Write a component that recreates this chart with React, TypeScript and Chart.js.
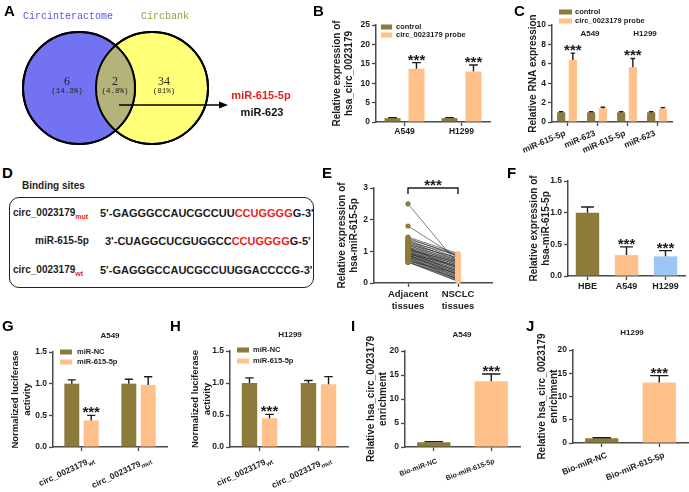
import React, { useEffect, useRef } from 'react';
import { Chart, registerables } from 'chart.js';
Chart.register(...registerables);

const SANS = '"Liberation Sans", Arial, Helvetica, sans-serif';
const MONO = '"Liberation Mono", "DejaVu Sans Mono", monospace';
const SERIF = '"Liberation Serif", "DejaVu Serif", serif';
const OLIVE = '#8c7b3a';
const ORANGE = '#ffc189';
const BLUE = '#9dc6f5';
const AXIS = '#4a4a4a';
const INK = '#1c1c1c';
const RED = '#ee1c1c';

// ---------------- data ----------------
// A: Venn
const vennSets = ['Circinteractome', 'Circbank'];
const vennCounts = ['6', '2', '34'];
const vennPercents = ['(14.3%)', '(4.8%)', '(81%)'];
const vennTargets = ['miR-615-5p', 'miR-623'];

// B
const bCategories = ['A549', 'H1299'];
const bSeries = ['control', 'circ_0023179 probe'];
const bControl = [1.0, 1.0];
const bControlErr = [0.12, 0.12];
const bProbe = [13.7, 13.0];
const bProbeErr = [1.6, 1.7];
const bProbeStars = [true, true];
const bTicks = ['0', '5', '10', '15', '20', '25'];

// C
const cCategories = ['miR-615-5p', 'miR-623', 'miR-615-5p', 'miR-623'];
const cGroups = ['A549', 'H1299'];
const cControl = [1.0, 1.0, 1.0, 1.0];
const cControlErr = [0.06, 0.05, 0.05, 0.05];
const cProbe = [6.4, 1.42, 5.65, 1.38];
const cProbeErr = [0.7, 0.1, 0.9, 0.1];
const cProbeStars = [true, false, true, false];
const cTicks = ['0', '2', '4', '6', '8', '10'];

// D: binding sites
const bindingTitle = 'Binding sites';
const bindingNames = ['circ_0023179', 'miR-615-5p', 'circ_0023179'];
const bindingSubs = ['mut', '', 'wt'];
const bindingSeqHead = ["5'-GAGGGCCAUCGCCUU", "3'-CUAGGCUCGUGGCC", "5'-GAGGGCCAUCGCCUUGGACCCCG-3'"];
const bindingSeqSite = ['CCUGGGG', 'CCUGGGG', ''];
const bindingSeqTail = ["G-3'", "G-5'", ''];

// E: paired tissues
const eCategories = [['Adjacent', 'tissues'], ['NSCLC', 'tissues']];
const eAdjacent = [2.5, 1.8, 1.45, 1.42, 1.38, 1.35, 1.32, 1.3, 1.27, 1.25, 1.22, 1.2, 1.18, 1.15, 1.13, 1.1, 1.08, 1.06, 1.04, 1.02, 1.0, 0.98, 0.97, 0.95, 0.93, 0.92, 0.9, 0.88, 0.87, 0.85, 0.83, 0.82, 0.8, 0.78, 0.76, 0.74, 0.72, 0.7, 0.68, 0.66, 0.65, 1.12, 0.95, 1.05, 0.9];
const eNsclc = [0.6, 0.8, 0.93, 0.85, 0.9, 0.78, 0.7, 0.88, 0.75, 0.65, 0.8, 0.6, 0.72, 0.55, 0.68, 0.5, 0.62, 0.45, 0.58, 0.4, 0.52, 0.35, 0.48, 0.3, 0.42, 0.55, 0.25, 0.38, 0.2, 0.33, 0.15, 0.28, 0.1, 0.22, 0.18, 0.12, 0.08, 0.3, 0.05, 0.14, 0.06, 0.46, 0.36, 0.66, 0.26];
const eTicks = ['0', '1', '2', '3'];

// F
const fCategories = ['HBE', 'A549', 'H1299'];
const fValues = [1.0, 0.33, 0.31];
const fErr = [0.09, 0.13, 0.09];
const fStars = [false, true, true];
const fTicks = ['0.0', '0.5', '1.0', '1.5'];

// G, H
const lucCategories = ['circ_0023179', 'circ_0023179'];
const lucSubs = ['wt', 'mut'];
const lucSeries = ['miR-NC', 'miR-615-5p'];
const gNC = [1.0, 1.0];
const gNCErr = [0.06, 0.07];
const g615 = [0.42, 0.98];
const g615Err = [0.08, 0.13];
const hNC = [1.0, 1.0];
const hNCErr = [0.08, 0.04];
const h615 = [0.45, 0.98];
const h615Err = [0.06, 0.12];
const lucStars = [true, false];
const lucTicks = ['0.0', '0.5', '1.0', '1.5'];

// I, J
const enrichCategories = ['Bio-miR-NC', 'Bio-miR-615-5p'];
const iValues = [1.0, 13.7];
const iErr = [0.12, 1.5];
const jValues = [1.0, 13.0];
const jErr = [0.12, 1.5];
const enrichStars = [false, true];
const enrichTicks = ['0', '5', '10', '15', '20'];

// ---------------- helpers ----------------
type Rect = { l: number; t: number; w: number; h: number };
type Area = { x0: number; y0: number; x1: number; y1: number };

const font = (size: number, weight = 'bold') => ({ family: SANS, size, weight });

function ChartCanvas({ rect, make }: { rect: Rect; make: () => any }) {
  const ref = useRef<HTMLCanvasElement>(null);
  useEffect(() => {
    const chart = new Chart(ref.current as HTMLCanvasElement, make());
    return () => chart.destroy();
  }, []);
  return (
    <canvas
      ref={ref}
      width={rect.w}
      height={rect.h}
      style={{ position: 'absolute', left: rect.l, top: rect.t, width: rect.w, height: rect.h }}
    />
  );
}

const errorBarPlugin = {
  id: 'errorBars',
  afterDatasetsDraw(chart: any) {
    const ctx = chart.ctx;
    const y = chart.scales.y;
    chart.data.datasets.forEach((ds: any, i: number) => {
      if (!ds.errors) return;
      const meta = chart.getDatasetMeta(i);
      meta.data.forEach((bar: any, j: number) => {
        const e = ds.errors[j];
        const top = y.getPixelForValue(ds.data[j] + e);
        const w = bar.width * 0.55;
        ctx.save();
        ctx.strokeStyle = INK;
        ctx.lineWidth = 1.4;
        ctx.beginPath();
        ctx.moveTo(bar.x, bar.y);
        ctx.lineTo(bar.x, top);
        ctx.moveTo(bar.x - w / 2, top);
        ctx.lineTo(bar.x + w / 2, top);
        ctx.stroke();
        if (ds.stars && ds.stars[j]) {
          ctx.font = `bold 15px ${SANS}`;
          ctx.textAlign = 'center';
          ctx.textBaseline = 'alphabetic';
          ctx.fillStyle = INK;
          ctx.fillText('***', bar.x, top + 2);
        }
        ctx.restore();
      });
    });
  },
};

type LegendSpec = { x: number; y: number; dy: number; size: number; textX: number; sw: number };
type Note = { text: string; x: number; y: number; size: number; align?: CanvasTextAlign; color?: string };
type RotSpec = { angle: number; size: number; dx: number; dy: number; subs?: string[] };

function overlayPlugin(rect: Rect, labels: string[], colors: string[], legend?: LegendSpec, notes?: Note[], rot?: RotSpec, rotLabels?: string[]) {
  return {
    id: 'overlay',
    afterDraw(chart: any) {
      const ctx = chart.ctx;
      ctx.save();
      if (legend) {
        labels.forEach((lab, i) => {
          const y = legend.y + i * legend.dy - rect.t;
          ctx.fillStyle = colors[i];
          ctx.fillRect(legend.x - rect.l, y - 2.5, legend.sw, 5);
          ctx.fillStyle = INK;
          ctx.font = `bold ${legend.size}px ${SANS}`;
          ctx.textAlign = 'left';
          ctx.textBaseline = 'middle';
          ctx.fillText(lab, legend.textX - rect.l, y);
        });
      }
      (notes || []).forEach((n) => {
        ctx.fillStyle = n.color || INK;
        ctx.font = `bold ${n.size}px ${SANS}`;
        ctx.textAlign = n.align || 'center';
        ctx.textBaseline = 'middle';
        ctx.fillText(n.text, n.x - rect.l, n.y - rect.t);
      });
      if (rot && rotLabels) {
        const xs = chart.scales.x;
        const bottom = chart.chartArea.bottom;
        rotLabels.forEach((lab, i) => {
          const x = xs.getPixelForTick(i);
          const sub = rot.subs ? rot.subs[i] : '';
          const mainFont = `bold ${rot.size}px ${SANS}`;
          const subFont = `bold ${rot.size * 0.72}px ${SANS}`;
          ctx.save();
          ctx.translate(x + rot.dx, bottom + rot.dy);
          ctx.rotate((-rot.angle * Math.PI) / 180);
          ctx.fillStyle = INK;
          ctx.textBaseline = 'middle';
          ctx.font = subFont;
          const ws = sub ? ctx.measureText(sub).width : 0;
          ctx.font = mainFont;
          ctx.textAlign = 'right';
          ctx.fillText(lab, -ws, 0);
          if (sub) {
            ctx.font = subFont;
            ctx.textAlign = 'left';
            ctx.fillText(sub, -ws, rot.size * 0.38);
          }
          ctx.restore();
        });
      }
      ctx.restore();
    },
  };
}

type Series = { label: string; data: number[]; err: number[]; color: string | string[]; stars?: boolean[] };
type BarPanel = {
  rect: Rect;
  padLeft?: number;
  area: Area;
  labels: string[];
  series: Series[];
  catPct: number;
  barPct: number;
  yMax: number;
  yStep: number;
  yTicks: string[];
  yTitle: string | string[];
  titleSize: number;
  tickSize: number;
  xSize: number;
  legend?: LegendSpec;
  notes?: Note[];
  rot?: RotSpec;
};

function axisGrid() {
  return { display: true, drawOnChartArea: false, offset: false, tickLength: 4, tickWidth: 1.3, tickColor: AXIS, color: AXIS };
}

function barChart(p: BarPanel) {
  const padLeft = p.padLeft || 0;
  const padTop = p.area.y0 - p.rect.t;
  const padRight = p.rect.l + p.rect.w - p.area.x1;
  const yW = p.area.x0 - p.rect.l - padLeft;
  const xH = p.rect.t + p.rect.h - p.area.y1;
  const legendColors = p.series.map((s) => (Array.isArray(s.color) ? s.color[0] : s.color));
  return {
    type: 'bar',
    data: {
      labels: p.labels,
      datasets: p.series.map((s) => ({
        label: s.label,
        data: s.data,
        errors: s.err,
        stars: s.stars,
        backgroundColor: s.color,
        borderWidth: 0,
        categoryPercentage: p.catPct,
        barPercentage: p.barPct,
      })),
    },
    options: {
      animation: false,
      responsive: false,
      events: [],
      layout: { autoPadding: false, padding: { top: padTop, right: padRight, left: padLeft, bottom: 0 } },
      plugins: { legend: { display: false }, tooltip: { enabled: false } },
      scales: {
        x: {
          type: 'category',
          offset: true,
          grid: axisGrid(),
          border: { display: true, color: AXIS, width: 1.5 },
          ticks: { display: !p.rot, font: font(p.xSize), color: INK, padding: 1, maxRotation: 0, minRotation: 0, autoSkip: false },
          afterFit: (s: any) => {
            s.height = xH;
          },
        },
        y: {
          min: 0,
          max: p.yMax,
          grid: axisGrid(),
          border: { display: true, color: AXIS, width: 1.5 },
          ticks: { stepSize: p.yStep, font: font(p.tickSize), color: INK, padding: 2, callback: (_v: any, i: number) => p.yTicks[i] },
          title: { display: true, text: p.yTitle, font: font(p.titleSize), color: INK, padding: 0 },
          afterFit: (s: any) => {
            s.width = yW;
          },
        },
      },
    },
    plugins: [errorBarPlugin, overlayPlugin(p.rect, p.series.map((s) => s.label), legendColors, p.legend, p.notes, p.rot, p.rot ? p.labels : undefined)],
  };
}

// ---------------- Panel A: Venn ----------------
const VENN_RECT: Rect = { l: 0, t: 0, w: 312, h: 160 };
const VENN_CIRCLES = [
  { x: 79, y: 88, r: 56, fill: '#7272f2' },
  { x: 152, y: 88, r: 56, fill: '#ffff78' },
];
const VENN_OVERLAP = '#b4b37a';

function vennChart() {
  const labelPos = [
    { x: 23, y: 16, color: '#5555ee' },
    { x: 141, y: 16, color: '#9a9a3a' },
  ];
  const countPos = [67, 115, 164];
  const vennPlugin = {
    id: 'venn',
    afterDatasetsDraw(chart: any) {
      const ctx = chart.ctx;
      const xs = chart.scales.x;
      const ys = chart.scales.y;
      const c = chart.data.datasets.map((ds: any) => {
        const d = ds.data[0];
        return { x: xs.getPixelForValue(d.x), y: ys.getPixelForValue(d.y), r: d.r };
      });
      ctx.save();
      ctx.beginPath();
      ctx.arc(c[0].x, c[0].y, c[0].r, 0, Math.PI * 2);
      ctx.clip();
      ctx.beginPath();
      ctx.arc(c[1].x, c[1].y, c[1].r, 0, Math.PI * 2);
      ctx.fillStyle = VENN_OVERLAP;
      ctx.fill();
      ctx.restore();
      ctx.save();
      ctx.strokeStyle = '#000';
      ctx.lineWidth = 2;
      c.forEach((k: any) => {
        ctx.beginPath();
        ctx.arc(k.x, k.y, k.r, 0, Math.PI * 2);
        ctx.stroke();
      });
      ctx.textBaseline = 'middle';
      ctx.textAlign = 'left';
      ctx.font = `10px ${MONO}`;
      vennSets.forEach((s, i) => {
        ctx.fillStyle = labelPos[i].color;
        ctx.fillText(s, labelPos[i].x, labelPos[i].y);
      });
      ctx.textAlign = 'center';
      ctx.fillStyle = '#222';
      vennCounts.forEach((n, i) => {
        ctx.font = `12px ${SERIF}`;
        ctx.fillText(n, countPos[i], 82);
        ctx.font = `7.5px ${MONO}`;
        ctx.fillText(vennPercents[i], countPos[i], 91);
      });
      ctx.strokeStyle = '#000';
      ctx.lineWidth = 1.6;
      ctx.beginPath();
      ctx.moveTo(119, 105);
      ctx.lineTo(221, 105);
      ctx.stroke();
      ctx.fillStyle = '#000';
      ctx.beginPath();
      ctx.moveTo(228, 105);
      ctx.lineTo(219, 101.5);
      ctx.lineTo(219, 108.5);
      ctx.closePath();
      ctx.fill();
      ctx.textAlign = 'center';
      ctx.font = `bold 11px ${SANS}`;
      ctx.fillStyle = RED;
      ctx.fillText(vennTargets[0], 261, 96);
      ctx.fillStyle = '#111';
      ctx.fillText(vennTargets[1], 262, 113);
      ctx.restore();
    },
  };
  return {
    type: 'bubble',
    data: {
      datasets: VENN_CIRCLES.map((k, i) => ({
        label: vennSets[i],
        data: [{ x: k.x, y: k.y, r: k.r }],
        backgroundColor: k.fill,
        borderColor: '#000',
        borderWidth: 2,
        clip: false,
      })),
    },
    options: {
      animation: false,
      responsive: false,
      events: [],
      layout: { autoPadding: false, padding: 0 },
      plugins: { legend: { display: false }, tooltip: { enabled: false } },
      scales: {
        x: { type: 'linear', display: false, min: 0, max: VENN_RECT.w },
        y: { type: 'linear', display: false, min: 0, max: VENN_RECT.h, reverse: true },
      },
    },
    plugins: [vennPlugin],
  };
}

// ---------------- Panel E ----------------
const E_RECT: Rect = { l: 336, t: 178, w: 160, h: 140 };
const E_AREA: Area = { x0: 374, y0: 188, x1: 492, y1: 283 };

function pairedChart() {
  const padTop = E_AREA.y0 - E_RECT.t;
  const padRight = E_RECT.l + E_RECT.w - E_AREA.x1;
  const yW = E_AREA.x0 - E_RECT.l;
  const xH = E_RECT.t + E_RECT.h - E_AREA.y1;
  const lines = eAdjacent.map((a, i) => ({
    data: [
      { x: 0, y: a },
      { x: 1, y: eNsclc[i] },
    ],
    showLine: true,
    borderColor: '#2a2a2a',
    borderWidth: 0.6,
    pointRadius: 0,
    order: 2,
    clip: false,
  }));
  const pts = [
    { data: eAdjacent.map((v) => ({ x: 0, y: v })), backgroundColor: OLIVE, pointRadius: 2.6, pointBorderWidth: 0, showLine: false, order: 1, clip: false },
    { data: eNsclc.map((v) => ({ x: 1, y: v })), backgroundColor: ORANGE, pointRadius: 2.6, pointBorderWidth: 0, showLine: false, order: 1, clip: false },
  ];
  const bracket = {
    id: 'bracket',
    afterDraw(chart: any) {
      const ctx = chart.ctx;
      const x0 = chart.scales.x.getPixelForValue(0);
      const x1 = chart.scales.x.getPixelForValue(1);
      const y = chart.scales.y.getPixelForValue(3);
      ctx.save();
      ctx.strokeStyle = INK;
      ctx.lineWidth = 1.4;
      ctx.beginPath();
      ctx.moveTo(x0, y + 6);
      ctx.lineTo(x0, y);
      ctx.lineTo(x1, y);
      ctx.lineTo(x1, y + 6);
      ctx.stroke();
      ctx.font = `bold 15px ${SANS}`;
      ctx.textAlign = 'center';
      ctx.fillStyle = INK;
      ctx.fillText('***', (x0 + x1) / 2, y + 2);
      ctx.restore();
    },
  };
  return {
    type: 'scatter',
    data: { datasets: [...lines, ...pts] },
    options: {
      animation: false,
      responsive: false,
      events: [],
      layout: { autoPadding: false, padding: { top: padTop, right: padRight, left: 0, bottom: 0 } },
      plugins: { legend: { display: false }, tooltip: { enabled: false } },
      scales: {
        x: {
          type: 'linear',
          min: -0.68,
          max: 1.68,
          grid: axisGrid(),
          border: { display: true, color: AXIS, width: 1.5 },
          afterBuildTicks: (s: any) => {
            s.ticks = [{ value: 0 }, { value: 1 }];
          },
          ticks: { font: font(9.5), color: INK, padding: 2, maxRotation: 0, autoSkip: false, callback: (_v: any, i: number) => eCategories[i] },
          afterFit: (s: any) => {
            s.height = xH;
          },
        },
        y: {
          min: 0,
          max: 3,
          grid: axisGrid(),
          border: { display: true, color: AXIS, width: 1.5 },
          ticks: { stepSize: 1, font: font(8.5), color: INK, padding: 2, callback: (_v: any, i: number) => eTicks[i] },
          title: { display: true, text: ['Relative expression of', 'hsa-miR-615-5p'], font: font(10), color: INK, padding: 0 },
          afterFit: (s: any) => {
            s.width = yW;
          },
        },
      },
    },
    plugins: [bracket],
  };
}

// ---------------- Panel specs ----------------
const panelB: BarPanel = {
  rect: { l: 331, t: 14, w: 165, h: 128 },
  area: { x0: 376, y0: 25, x1: 490, y1: 122 },
  labels: bCategories,
  series: [
    { label: bSeries[0], data: bControl, err: bControlErr, color: OLIVE },
    { label: bSeries[1], data: bProbe, err: bProbeErr, color: ORANGE, stars: bProbeStars },
  ],
  catPct: 0.84,
  barPct: 0.67,
  yMax: 25,
  yStep: 5,
  yTicks: bTicks,
  yTitle: ['Relative expression of', 'hsa_circ_0023179'],
  titleSize: 10,
  tickSize: 8.5,
  xSize: 8.5,
  legend: { x: 381, y: 27, dy: 8, size: 7.5, textX: 396, sw: 11 },
};

const panelC: BarPanel = {
  rect: { l: 510, t: 2, w: 179, h: 152 },
  padLeft: 17,
  area: { x0: 552, y0: 25, x1: 672, y1: 122 },
  labels: cCategories,
  series: [
    { label: bSeries[0], data: cControl, err: cControlErr, color: OLIVE },
    { label: bSeries[1], data: cProbe, err: cProbeErr, color: ORANGE, stars: cProbeStars },
  ],
  catPct: 0.78,
  barPct: 0.7,
  yMax: 10,
  yStep: 2,
  yTicks: cTicks,
  yTitle: 'Relative RNA expression',
  titleSize: 10,
  tickSize: 8.5,
  xSize: 8,
  legend: { x: 559, y: 12, dy: 9, size: 7.5, textX: 575, sw: 13 },
  notes: [
    { text: cGroups[0], x: 590, y: 34, size: 8 },
    { text: cGroups[1], x: 645, y: 34, size: 8 },
  ],
  rot: { angle: 23, size: 8.5, dx: -2, dy: 11 },
};

const panelF: BarPanel = {
  rect: { l: 528, t: 172, w: 161, h: 128 },
  area: { x0: 568, y0: 181, x1: 685, y1: 276 },
  labels: fCategories,
  series: [{ label: 'F', data: fValues, err: fErr, color: [OLIVE, ORANGE, BLUE], stars: fStars }],
  catPct: 1,
  barPct: 0.6,
  yMax: 1.5,
  yStep: 0.5,
  yTicks: fTicks,
  yTitle: ['Relative expression of', 'hsa-miR-615-5p'],
  titleSize: 10,
  tickSize: 8.5,
  xSize: 9,
};

const panelG: BarPanel = {
  rect: { l: 10, t: 330, w: 160, h: 160 },
  area: { x0: 53, y0: 352, x1: 167, y1: 447 },
  labels: lucCategories,
  series: [
    { label: lucSeries[0], data: gNC, err: gNCErr, color: OLIVE },
    { label: lucSeries[1], data: g615, err: g615Err, color: ORANGE, stars: lucStars },
  ],
  catPct: 0.68,
  barPct: 0.77,
  yMax: 1.5,
  yStep: 0.5,
  yTicks: lucTicks,
  yTitle: ['Normalized luciferase', 'activity'],
  titleSize: 9.5,
  tickSize: 8.5,
  xSize: 8,
  legend: { x: 60, y: 352, dy: 10, size: 7.5, textX: 77, sw: 12 },
  notes: [{ text: 'A549', x: 110, y: 336, size: 8 }],
  rot: { angle: 25, size: 8.5, dx: 12, dy: 12, subs: lucSubs },
};

const panelH: BarPanel = {
  rect: { l: 190, t: 330, w: 160, h: 160 },
  area: { x0: 230, y0: 351, x1: 348, y1: 447 },
  labels: lucCategories,
  series: [
    { label: lucSeries[0], data: hNC, err: hNCErr, color: OLIVE },
    { label: lucSeries[1], data: h615, err: h615Err, color: ORANGE, stars: lucStars },
  ],
  catPct: 0.68,
  barPct: 0.77,
  yMax: 1.5,
  yStep: 0.5,
  yTicks: lucTicks,
  yTitle: ['Normalized luciferase', 'activity'],
  titleSize: 9.5,
  tickSize: 8.5,
  xSize: 8,
  legend: { x: 237, y: 350, dy: 11, size: 7.5, textX: 253, sw: 12 },
  notes: [{ text: 'H1299', x: 290, y: 335, size: 8 }],
  rot: { angle: 25, size: 8.5, dx: 12, dy: 12, subs: lucSubs },
};

const panelI: BarPanel = {
  rect: { l: 365, t: 330, w: 160, h: 160 },
  area: { x0: 405, y0: 351, x1: 520, y1: 447 },
  labels: enrichCategories,
  series: [{ label: 'I', data: iValues, err: iErr, color: [OLIVE, ORANGE], stars: enrichStars }],
  catPct: 1,
  barPct: 0.58,
  yMax: 20,
  yStep: 5,
  yTicks: enrichTicks,
  yTitle: ['Relative hsa_circ_0023179', 'enrichment'],
  titleSize: 10,
  tickSize: 8.5,
  xSize: 7,
  notes: [{ text: 'A549', x: 462, y: 335, size: 8 }],
  rot: { angle: 20, size: 7, dx: 3, dy: 14 },
};

const panelJ: BarPanel = {
  rect: { l: 536, t: 328, w: 153, h: 162 },
  area: { x0: 573, y0: 350, x1: 688, y1: 443 },
  labels: enrichCategories,
  series: [{ label: 'J', data: jValues, err: jErr, color: [OLIVE, ORANGE], stars: enrichStars }],
  catPct: 1,
  barPct: 0.58,
  yMax: 20,
  yStep: 5,
  yTicks: enrichTicks,
  yTitle: ['Relative hsa_circ_0023179', 'enrichment'],
  titleSize: 10,
  tickSize: 8.5,
  xSize: 8.5,
  notes: [{ text: 'H1299', x: 632, y: 333, size: 8 }],
  rot: { angle: 22, size: 8.5, dx: 5, dy: 12 },
};

const PANEL_LETTERS = [
  { t: 'A', x: 4, y: 3 },
  { t: 'B', x: 313, y: 3 },
  { t: 'C', x: 514, y: 3 },
  { t: 'D', x: 2, y: 165 },
  { t: 'E', x: 322, y: 165 },
  { t: 'F', x: 507, y: 165 },
  { t: 'G', x: 2, y: 318 },
  { t: 'H', x: 170, y: 318 },
  { t: 'I', x: 351, y: 318 },
  { t: 'J', x: 526, y: 318 },
];

const BIND_ROWS = [
  { y: 213, nameX: 13, seqX: 100 },
  { y: 241, nameX: 35, seqX: 105 },
  { y: 270, nameX: 13, seqX: 100 },
];

function BindingPanel() {
  const txt: React.CSSProperties = { position: 'absolute', font: `bold 10px ${SANS}`, lineHeight: '12px', color: INK, whiteSpace: 'nowrap' };
  const seq: React.CSSProperties = { ...txt, fontSize: 11 };
  return (
    <>
      <div style={{ ...txt, left: 22, top: 180 }}>{bindingTitle}</div>
      <div style={{ position: 'absolute', left: 9, top: 197, width: 305, height: 91, border: '1.3px solid #222', borderRadius: 10, boxSizing: 'border-box' }} />
      {BIND_ROWS.map((r, i) => (
        <React.Fragment key={i}>
          <div style={{ ...txt, left: r.nameX, top: r.y - 6 }}>
            {bindingNames[i]}
            {bindingSubs[i] ? <span style={{ color: RED, fontSize: 7, position: 'relative', top: 3 }}>{bindingSubs[i]}</span> : null}
          </div>
          <div style={{ ...seq, left: r.seqX, top: r.y - 6 }}>
            {bindingSeqHead[i]}
            <span style={{ color: RED }}>{bindingSeqSite[i]}</span>
            {bindingSeqTail[i]}
          </div>
        </React.Fragment>
      ))}
    </>
  );
}

export default function App() {
  return (
    <div style={{ position: 'fixed', left: 0, top: 0, width: 689, height: 492, background: '#fff', overflow: 'hidden' }}>
      <ChartCanvas rect={VENN_RECT} make={vennChart} />
      <ChartCanvas rect={panelB.rect} make={() => barChart(panelB)} />
      <ChartCanvas rect={panelC.rect} make={() => barChart(panelC)} />
      <ChartCanvas rect={E_RECT} make={pairedChart} />
      <ChartCanvas rect={panelF.rect} make={() => barChart(panelF)} />
      <ChartCanvas rect={panelG.rect} make={() => barChart(panelG)} />
      <ChartCanvas rect={panelH.rect} make={() => barChart(panelH)} />
      <ChartCanvas rect={panelI.rect} make={() => barChart(panelI)} />
      <ChartCanvas rect={panelJ.rect} make={() => barChart(panelJ)} />
      <BindingPanel />
      {PANEL_LETTERS.map((p) => (
        <div key={p.t} style={{ position: 'absolute', left: p.x, top: p.y, font: `bold 15px ${SANS}`, lineHeight: '15px', color: '#000' }}>
          {p.t}
        </div>
      ))}
    </div>
  );
}
